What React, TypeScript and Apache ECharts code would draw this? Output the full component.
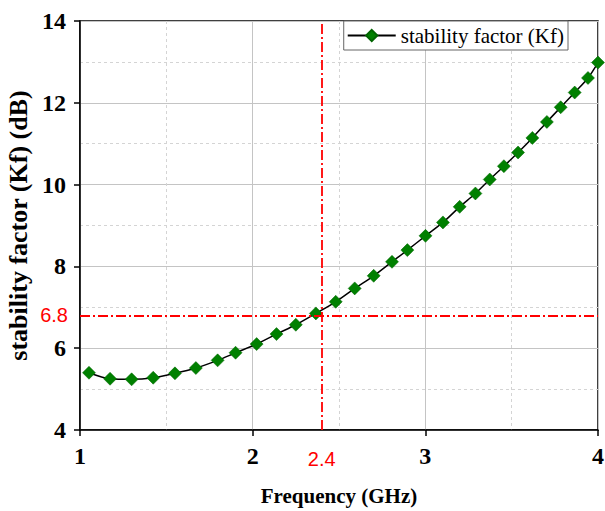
import React, { useEffect, useRef } from "react";
import * as echarts from "echarts";

const freqGHz = [
  1.052, 1.174, 1.299, 1.424, 1.55, 1.671, 1.797, 1.901, 2.023, 2.138,
  2.25, 2.366, 2.481, 2.591, 2.701, 2.807, 2.896, 3.001, 3.102, 3.199,
  3.29, 3.373, 3.455, 3.537, 3.62, 3.704, 3.784, 3.865, 3.942, 4.0,
];
const kfDb = [
  5.4, 5.253, 5.239, 5.278, 5.385, 5.515, 5.703, 5.889, 6.101, 6.345,
  6.573, 6.851, 7.135, 7.462, 7.77, 8.112, 8.398, 8.747, 9.075, 9.456,
  9.783, 10.125, 10.45, 10.785, 11.141, 11.532, 11.891, 12.251, 12.607, 12.984,
];
const seriesName = "stability factor (Kf)";
const markFreq = 2.4;
const markKf = 6.8;

export default function App() {
  const ref = useRef<HTMLDivElement>(null);
  useEffect(() => {
    if (!ref.current) return;
    const chart = echarts.init(ref.current, null, { renderer: "svg" });
    const serif = "'Liberation Serif', 'Times New Roman', serif";
    const sans = "'Liberation Sans', Arial, sans-serif";
    const axisCommon = {
      axisLine: { show: true, lineStyle: { color: "#000", width: 1.5 } },
      axisTick: { show: true, length: 6, lineStyle: { color: "#000", width: 1.5 } },
      splitLine: { show: true, lineStyle: { color: "#c4c4c4", width: 1 } },
      minorTick: { show: false, splitNumber: 2 },
      minorSplitLine: { show: true, lineStyle: { color: "#d4d4d4", width: 1, type: [3, 3] } },
      axisLabel: { fontFamily: serif, fontWeight: "bold", fontSize: 24, color: "#000", margin: 14 },
      nameLocation: "middle",
    };
    chart.setOption({
      animation: false,
      backgroundColor: "#fff",
      grid: {
        left: 80, right: 7, top: 21, bottom: 81,
        outerBoundsMode: "none",
        containLabel: false,
        show: true, borderColor: "#000", borderWidth: 1.5, backgroundColor: "transparent",
      },
      legend: {
        right: 37, top: 21,
        backgroundColor: "#fff", borderColor: "#666", borderWidth: 1,
        padding: [4, 4, 4, 3],
        itemWidth: 48, itemHeight: 14,
        textStyle: { fontFamily: serif, fontSize: 21, color: "#000" },
        data: [seriesName],
      },
      xAxis: {
        ...axisCommon,
        type: "value", min: 1, max: 4, interval: 1,
        name: "Frequency (GHz)", nameGap: 55,
        nameTextStyle: { fontFamily: serif, fontWeight: "bold", color: "#000000", fontSize: 21 },
      },
      yAxis: {
        ...axisCommon,
        type: "value", min: 4, max: 14, interval: 2,
        name: "stability factor (Kf) (dB)", nameGap: 43,
        nameTextStyle: { fontFamily: serif, fontWeight: "bold", color: "#000000", fontSize: 26 },
      },
      series: [
        {
          name: seriesName,
          type: "line",
          data: freqGHz.map((f, i) => [f, kfDb[i]]),
          smooth: 0.3,
          symbol: "diamond",
          symbolSize: 13,
          showAllSymbol: true,
          itemStyle: { color: "#008000", borderColor: "#006400", borderWidth: 0.5 },
          lineStyle: { color: "#000", width: 1.5 },
          markLine: {
            silent: true,
            symbol: "none",
            lineStyle: { color: "#ff0000", width: 1.8, type: [10, 3, 2, 3] },
            data: [
              {
                xAxis: markFreq,
                label: {
                  show: true, position: "start", formatter: String(markFreq),
                  color: "#ff0000", fontFamily: sans, fontSize: 20, distance: 19,
                },
              },
              {
                yAxis: markKf,
                label: {
                  show: true, position: "start", formatter: String(markKf),
                  color: "#ff0000", fontFamily: sans, fontSize: 20, distance: 12,
                },
              },
            ],
          },
        },
      ],
    });
    return () => chart.dispose();
  }, []);
  return (
    <div
      ref={ref}
      style={{ position: "absolute", left: 0, top: 0, width: 605, height: 511, background: "#fff" }}
    />
  );
}
